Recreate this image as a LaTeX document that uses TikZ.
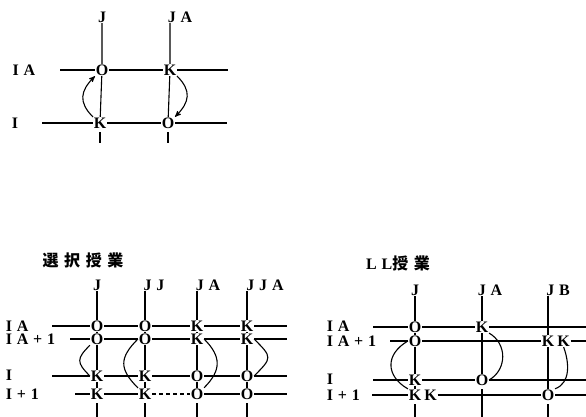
\documentclass[tikz,border=0pt]{standalone}
\usepackage{fontspec}
\setmainfont{Liberation Serif}[LetterSpace=30]
\newfontfamily\jpfont[LetterSpace=35]{Noto Sans CJK JP}
\usetikzlibrary{arrows,positioning}

\tikzset{
  cell/.style={inner sep=0.3pt, font=\fontsize{16}{16}\selectfont\bfseries},
  lab/.style={inner sep=0.3pt, font=\fontsize{16}{16}\selectfont\bfseries},
  jptitle/.style={font=\fontsize{16}{16}\selectfont\bfseries},
  tick/.style={shorten <=3pt},
}

\begin{document}
\begin{tikzpicture}[x=1pt, y=1pt, line width=1.1pt, >=stealth']
        \useasboundingbox (0,0) rectangle (586,417);

        % Top scheme
        \node[lab] (tj) at (102,400) {J};
        \node[lab] (tja) at (180,400) {JA};
        \node[lab] (tia) at (24,347) {IA};
        \node[lab] (ti) at (15,294) {I};
        \node[cell] (to1) at (102,347) {O};
        \node[cell] (tk1) at (170,347) {K};
        \node[cell] (tk2) at (100,294) {K};
        \node[cell] (to2) at (168,294) {O};
        \coordinate (tial) at (60,347);
        \coordinate (tiar) at (228,347);
        \coordinate (til) at (42,294);
        \coordinate (tir) at (227,294);
        \coordinate (tb1) at (100,274);
        \coordinate (tb2) at (168,274);

        \draw (tial) -- (to1) -- (tk1) -- (tiar);
        \draw (til) -- (tk2) -- (to2) -- (tir);
        \draw (tj) -- (to1) -- (tk2);
        \draw[tick] (tk2) -- (tb1);
        \draw (tja.south -| tk1) -- (tk1) -- (to2);
        \draw[tick] (to2) -- (tb2);
        \draw[->] (tk2.north west) to[out=135, in=225, looseness=1.3] (to1.south west);
        \draw[->] (tk1.south east) to[out=-45, in=45, looseness=1.3] (to2.north east);

        % Elective lessons
        \node[jptitle] (stitle) at (83,157) {\jpfont 選択授業};
        \node[lab] (sj) at (97,132) {J};
        \node[lab] (sjj) at (154,132) {JJ};
        \node[lab] (sja) at (208,132) {JA};
        \node[lab] (sjja) at (265,132) {JJA};
        \node[lab, anchor=west] (sia) at (5,91) {IA};
        \node[lab, anchor=west] (sia1) at (5,78) {IA+1};
        \node[lab, anchor=west] (si) at (5,42) {I};
        \node[lab, anchor=west] (si1) at (5,23) {I+1};

        \node[cell] (s11) at (97,91) {O};
        \node[cell] (s12) at (145,91) {O};
        \node[cell] (s13) at (197,91) {K};
        \node[cell] (s14) at (247,91) {K};
        \node[cell] (s21) at (97,78) {O};
        \node[cell] (s22) at (145,78) {O};
        \node[cell] (s23) at (197,78) {K};
        \node[cell] (s24) at (247,78) {K};
        \node[cell] (s31) at (97,41) {K};
        \node[cell] (s32) at (145,41) {K};
        \node[cell] (s33) at (197,41) {O};
        \node[cell] (s34) at (247,41) {O};
        \node[cell] (s41) at (97,23) {K};
        \node[cell] (s42) at (145,23) {K};
        \node[cell] (s43) at (197,23) {O};
        \node[cell] (s44) at (247,23) {O};

        \coordinate (sl1) at (52,91);
        \coordinate (sl2) at (70,78);
        \coordinate (sl3) at (52,41);
        \coordinate (sl4) at (75,23);
        \coordinate (sr1) at (287,91);
        \coordinate (sr2) at (287,78);
        \coordinate (sr3) at (287,41);
        \coordinate (sr4) at (287,23);
        \coordinate (sb1) at (97,0);
        \coordinate (sb2) at (145,0);
        \coordinate (sb3) at (197,0);
        \coordinate (sb4) at (247,0);

        \draw (sl1) -- (s11) -- (s12) -- (s13) -- (s14) -- (sr1);
        \draw (sl2) -- (s21) -- (s22) -- (s23) -- (s24) -- (sr2);
        \draw (sl3) -- (s31) -- (s32) -- (s33) -- (s34) -- (sr3);
        \draw (sl4) -- (s41) -- (s42);
        \draw[dash pattern=on 4pt off 3pt] (s42) -- (s43);
        \draw (s43) -- (s44) -- (sr4);

        \draw (sj) -- (s11) -- (s21) -- (s31) -- (s41);
        \draw (sjj.south -| s12) -- (s12) -- (s22) -- (s32) -- (s42);
        \draw (sja.south -| s13) -- (s13) -- (s23) -- (s33) -- (s43);
        \draw (sjja.south -| s14) -- (s14) -- (s24) -- (s34) -- (s44);
        \draw[tick] (s41) -- (sb1);
        \draw[tick] (s42) -- (sb2);
        \draw[tick] (s43) -- (sb3);
        \draw[tick] (s44) -- (sb4);

        \draw (s31.west) to[out=135, in=225, looseness=1.6] (s21.south west);
        \draw (s42.north west) to[out=135, in=225, looseness=1.4] (s22.west);
        \draw (s23.east) to[out=-45, in=45, looseness=1.3] (s43.north east);
        \draw (s24.east) to[out=-45, in=45, looseness=1.8] (s34.east);

        % LL lessons
        \node[jptitle] (ltitle) at (398,154) {LL{\jpfont 授業}};
        \node[lab] (lj) at (415,127) {J};
        \node[lab] (lja) at (490,127) {JA};
        \node[lab] (ljb) at (558,127) {JB};
        \node[lab, anchor=west] (lia) at (326,91) {IA};
        \node[lab, anchor=west] (lia1) at (326,76) {IA+1};
        \node[lab, anchor=west] (li) at (326,38) {I};
        \node[lab, anchor=west] (li1) at (326,22) {I+1};

        \node[cell] (l11) at (415,90) {O};
        \node[cell] (l21) at (415,76) {O};
        \node[cell] (l31) at (415,37) {K};
        \node[cell] (l41) at (415,22) {K};
        \node[cell, right=1.5pt of l41] (l41b) {K};
        \node[cell] (l12) at (482,90) {K};
        \node[cell] (l32) at (482,37) {O};
        \node[cell] (l23) at (548,76) {K};
        \node[cell, right=1.5pt of l23] (l23b) {K};
        \node[cell] (l43) at (548,22) {O};

        \coordinate (ll1) at (373,90);
        \coordinate (ll2) at (390,76);
        \coordinate (ll3) at (373,37);
        \coordinate (ll4) at (372,22);
        \coordinate (lr1) at (586,90);
        \coordinate (lr2) at (586,76);
        \coordinate (lr3) at (586,37);
        \coordinate (lr4) at (586,22);
        \coordinate (lb1) at (415,0);
        \coordinate (lb2) at (482,0);
        \coordinate (lb3) at (548,0);

        \draw (ll1) -- (l11) -- (l12) -- (lr1);
        \draw (ll2) -- (l21) -- (l23);
        \draw (l23b) -- (lr2);
        \draw (ll3) -- (l31) -- (l32) -- (lr3);
        \draw (ll4) -- (l41);
        \draw (l41b) -- (l43) -- (lr4);

        \draw (lj) -- (l11) -- (l21) -- (l31) -- (l41);
        \draw (lja.south -| l12) -- (l12) -- (l32);
        \draw (ljb.south -| l23) -- (l23) -- (l43);
        \draw[tick] (l41) -- (lb1);
        \draw[tick] (l32) -- (lb2);
        \draw[tick] (l43) -- (lb3);

        \draw (l41.north west) to[out=150, in=210, looseness=1.4] (l21.west);
        \draw (l12.south east) to[out=-30, in=30, looseness=1.15] (l32.east);
        \draw (l23b.south) to[out=-70, in=20] (l43.north east);
    \end{tikzpicture}
\end{document}
